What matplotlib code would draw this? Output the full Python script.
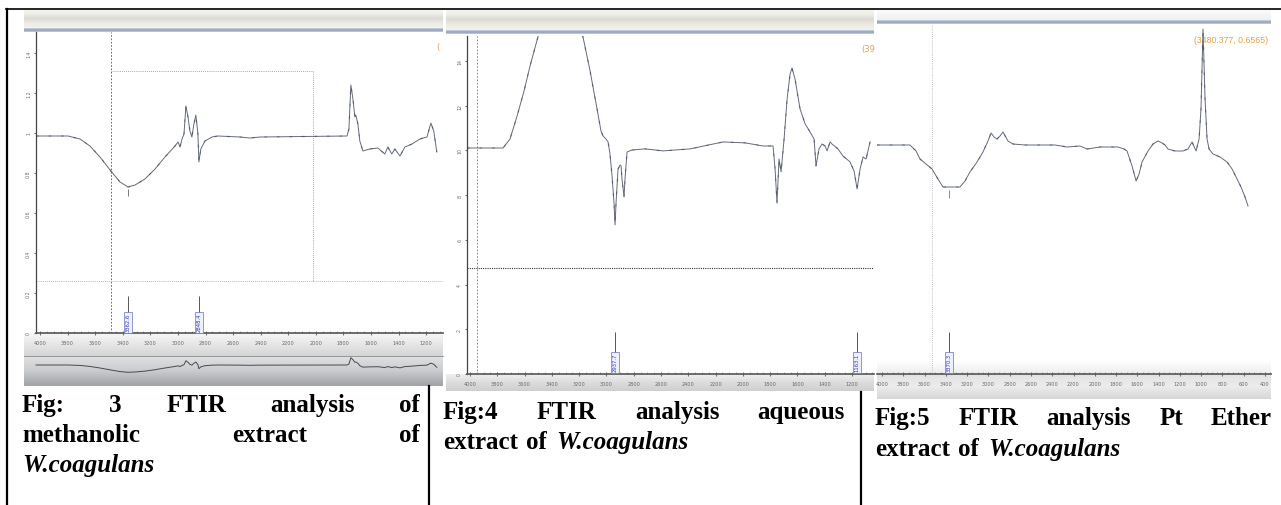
import numpy as np
import matplotlib
matplotlib.use("Agg")
import matplotlib.pyplot as plt
from matplotlib.colors import to_rgb
from matplotlib.ticker import AutoMinorLocator

W, H = 1281, 506

# --- values (wavenumber cm-1, signal) ---
meth_wn = [4029, 3797, 3710, 3638, 3565, 3486, 3420, 3362, 3311, 3239, 3166, 3094,
           3021, 2999, 2985, 2970, 2956, 2942, 2927, 2913, 2899, 2884, 2870, 2855,
           2848, 2834, 2804, 2753, 2710, 2550, 2478, 2405, 1774, 1760, 1746, 1731,
           1717, 1710, 1695, 1681, 1659, 1609, 1550, 1500, 1478, 1449, 1427, 1390,
           1354, 1303, 1245, 1194, 1166, 1145, 1123]
meth_abs = [0.985, 0.985, 0.97, 0.935, 0.88, 0.81, 0.755, 0.73, 0.74, 0.77, 0.82, 0.88,
            0.935, 0.955, 0.93, 0.97, 0.995, 1.135, 1.08, 1.01, 0.98, 1.045, 1.09, 0.995,
            0.855, 0.92, 0.96, 0.98, 0.985, 0.98, 0.975, 0.98, 0.985, 1.02, 1.24, 1.17,
            1.08, 1.09, 1.045, 0.96, 0.91, 0.92, 0.925, 0.895, 0.93, 0.895, 0.92, 0.885,
            0.93, 0.945, 0.97, 0.98, 1.05, 1.01, 0.905]
meth_peaks = [3362, 2848]
meth_peak_labels = ["3362.6", "2848.4"]

aq_wn = [4022, 3758, 3707, 3655, 3604, 3560, 3502, 3450, 3340, 3230, 3172, 3120,
         3069, 3040, 3025, 3003, 2988, 2974, 2959, 2944, 2937, 2930, 2915, 2900,
         2893, 2886, 2871, 2864, 2849, 2813, 2717, 2585, 2387, 2146, 1984, 1852,
         1779, 1764, 1750, 1735, 1720, 1698, 1676, 1654, 1640, 1618, 1581, 1544,
         1508, 1478, 1464, 1442, 1420, 1398, 1383, 1361, 1347, 1303, 1266, 1215,
         1185, 1163, 1141, 1119, 1097, 1068]
aq_abs = [10.11, 10.11, 10.51, 11.54, 12.66, 13.78, 15.08, 16.33, 18.6, 16.33, 15.08, 13.56,
          11.86, 10.87, 10.65, 10.51, 10.38, 9.84, 8.86, 7.61, 6.67, 7.61, 9.17, 9.35,
          9.31, 8.72, 7.92, 8.72, 9.93, 10.02, 10.07, 9.98, 10.07, 10.38, 10.34, 10.20,
          10.20, 9.17, 7.65, 9.62, 9.04, 10.51, 12.30, 13.42, 13.69, 13.20, 11.86, 11.19,
          10.83, 10.51, 9.31, 10.07, 10.29, 10.20, 9.98, 10.38, 10.29, 10.07, 9.75, 9.49,
          9.08, 8.28, 9.17, 9.71, 9.62, 10.38]
aq_peaks = [2937, 1163]
aq_peak_labels = ["2937.7", "1163.1"]

pe_wn = [4047, 3737, 3680, 3643, 3586, 3530, 3474, 3427, 3342, 3267, 3220, 3173,
         3107, 3051, 3004, 2975, 2947, 2919, 2891, 2863, 2816, 2769, 2656, 2515,
         2374, 2261, 2139, 2073, 1951, 1782, 1725, 1697, 1650, 1612, 1584, 1556,
         1500, 1453, 1406, 1368, 1340, 1312, 1246, 1171, 1124, 1086, 1048, 1020,
         1002, 983, 964, 945, 926, 889, 823, 757, 710, 663, 626, 588, 560]
pe_abs = [0.458, 0.458, 0.446, 0.43, 0.42, 0.41, 0.39, 0.374, 0.374, 0.374, 0.386, 0.404,
          0.424, 0.444, 0.466, 0.482, 0.474, 0.47, 0.476, 0.484, 0.466, 0.46, 0.458, 0.458,
          0.458, 0.454, 0.456, 0.45, 0.454, 0.454, 0.45, 0.446, 0.416, 0.386, 0.40, 0.424,
          0.446, 0.46, 0.466, 0.462, 0.458, 0.45, 0.446, 0.446, 0.45, 0.464, 0.446, 0.47,
          0.53, 0.69, 0.55, 0.47, 0.45, 0.44, 0.434, 0.424, 0.41, 0.39, 0.374, 0.354, 0.336]
pe_peaks = [3370]
pe_peak_labels = ["3370.3"]

ticks_short = list(range(4000, 1199, -200))
ticks_full = list(range(4000, 399, -200))

cap1 = [["Fig:", "3", "FTIR", "analysis", "of"], ["methanolic", "extract", "of"]]
cap2 = ["Fig:4", "FTIR", "analysis", "aqueous"]
cap3 = ["Fig:5", "FTIR", "analysis", "Pt", "Ether"]
species = "W.coagulans"

fig = plt.figure(figsize=(W / 100, H / 100), dpi=100)
fig.patch.set_facecolor("white")
bg = fig.add_axes([0, 0, 1, 1])
bg.axis("off")


def px_axes(x0, y0, x1, y1):
    return fig.add_axes([x0 / W, 1 - y1 / H, (x1 - x0) / W, (y1 - y0) / H])


def band(x0, x1, y0, y1, cols, n=64):
    c = np.array([to_rgb(k) for k in cols])
    t = np.linspace(0, 1, n)
    s = np.linspace(0, 1, len(cols))
    img = np.stack([np.interp(t, s, c[:, i]) for i in range(3)], axis=1)[:, None, :]
    bg.imshow(img, extent=[x0, x1, y1, y0], aspect="auto", interpolation="bilinear", zorder=0)


# screenshot chrome
header = ["#f7f6f1", "#eeede6", "#dcdbd2", "#ecebe5", "#f2f2ee"]
bluebar = ["#d3dae4", "#8d9cb4", "#c9d1dd"]
band(24, 443, 10, 29, header)
band(24, 443, 29, 33, bluebar)
band(24, 443, 334, 357, ["#f7f7f7", "#e6e6e6", "#d4d4d4"])
band(24, 443, 357, 387, ["#dfe1e3", "#c9cbce", "#9fa2a6"])
bg.plot([24, 443], [357, 357], color="#8a8a8a", lw=0.6)
band(446, 874, 10, 31, header)
band(446, 874, 31, 35, bluebar)
band(446, 874, 375, 392, ["#efefef", "#dcdcdc", "#cfcfcf"])
band(877, 1271, 11, 21, ["#fafbfc", "#eef0f4"])
band(877, 1271, 21, 25, bluebar)
band(877, 1271, 362, 375, ["#ffffff", "#ececec"])
band(877, 1271, 375, 400, ["#e2e2e2", "#ececec", "#d6d6d6"])

bg.text(436, 50, "(", fontsize=6, color="#e0a050")
bg.text(861, 52, "(39", fontsize=6, color="#e0a050")
bg.text(1194, 43, "(3480.377, 0.6565)", fontsize=6.3, color="#e5a24a", family="Liberation Sans")


def spectrum_axes(rect, xlim, ylim, xticks, yticks=None):
    ax = px_axes(*rect)
    ax.set_facecolor("none")
    ax.set_xlim(xlim)
    ax.set_ylim(ylim)
    ax.spines["top"].set_visible(False)
    ax.spines["right"].set_visible(False)
    ax.spines["bottom"].set_color("#555555")
    ax.spines["bottom"].set_linewidth(1.2)
    ax.set_xticks(xticks)
    ax.set_xticklabels([str(t) for t in xticks])
    ax.xaxis.set_minor_locator(AutoMinorLocator(4))
    ax.tick_params(axis="x", which="major", length=2.5, direction="inout", color="#777777",
                   labelsize=3.6, labelcolor="#6a6a6a", pad=3.5)
    ax.tick_params(axis="x", which="minor", length=1.5, direction="in", color="#999999")
    if yticks is None:
        ax.spines["left"].set_visible(False)
        ax.set_yticks([])
    else:
        ax.spines["left"].set_color("#444444")
        ax.spines["left"].set_linewidth(0.9)
        ax.set_yticks(yticks)
        ax.set_yticklabels([f"{v:g}" for v in yticks], rotation=90, va="center")
        ax.tick_params(axis="y", length=1.5, color="#777777", labelsize=3.4,
                       labelcolor="#707070", pad=2)
    return ax


def draw_trace(ax, wn, val):
    ax.plot(wn, val, color="#646b7e", lw=0.7, solid_joinstyle="round")
    ax.plot(wn, val, color="#2c2c2c", lw=1.0, dashes=(2, 7), alpha=0.35)


def draw_peaks(ax, peaks, labels, top, y_lab):
    ax.vlines(peaks, 0, top, color="#555555", lw=0.7)
    for p, lab in zip(peaks, labels):
        ax.text(p, y_lab, lab, rotation=90, fontsize=3.8, color="#3b3bb0", ha="center",
                va="bottom", bbox=dict(boxstyle="square,pad=0.25", fc="#eef0ff",
                                        ec="#6a70c0", lw=0.5))


# Fig 3 - methanolic extract
ax1 = spectrum_axes((36, 33, 443, 334), (4029, 1078), (0, 1.505), ticks_short,
                    [0, 0.2, 0.4, 0.6, 0.8, 1.0, 1.2, 1.4])
ax1.axvline(3486, color="#555555", lw=0.6, ls=(0, (2, 2)))
ax1.plot([3486, 2021, 2021], [1.31, 1.31, 0.26], color="#8a8a8a", lw=0.6, ls=(0, (1, 1.5)))
ax1.axhline(0.26, color="#9a9a9a", lw=0.6, ls=(0, (1, 1.5)))
draw_trace(ax1, meth_wn, meth_abs)
draw_peaks(ax1, meth_peaks, meth_peak_labels, 0.185, 0.008)
m0 = np.interp(meth_peaks[0], meth_wn[::-1], meth_abs[::-1])
ax1.vlines(meth_peaks[0], m0 - 0.045, m0 - 0.012, color="#666666", lw=0.6)

ov = px_axes(24, 357, 443, 387)
ov.axis("off")
ov.set_xlim(4116, 1078)
ov.set_ylim(0.25, 1.3)
ov.plot(meth_wn, meth_abs, color="#4a4a4a", lw=0.7)

# Fig 4 - aqueous extract
ax2 = spectrum_axes((467, 37, 874, 375), (4022, 1039), (0, 15.12), ticks_short,
                    [0, 2, 4, 6, 8, 10, 12, 14])
ax2.axvline(3949, color="#777777", lw=0.6, ls=(0, (2, 2)))
ax2.axhline(4.74, color="#333333", lw=0.8, ls=(0, (1, 1)))
draw_trace(ax2, aq_wn, aq_abs)
draw_peaks(ax2, aq_peaks, aq_peak_labels, 1.88, 0.12)

# Fig 5 - petroleum ether extract
ax3 = spectrum_axes((877, 25, 1271, 375), (4047, 344), (0, 0.70), ticks_full)
ax3.axvline(3530, color="#b0b0b0", lw=0.6, ls=(0, (1, 1.5)))
draw_trace(ax3, pe_wn, pe_abs)
draw_peaks(ax3, pe_peaks, pe_peak_labels, 0.084, 0.005)
p0 = np.interp(pe_peaks[0], pe_wn[::-1], pe_abs[::-1])
ax3.vlines(pe_peaks[0], p0 - 0.022, p0 - 0.006, color="#777777", lw=0.6)

# table rules
bg.plot([6, 1281], [9.5, 9.5], color="black", lw=1.2)
bg.plot([6.5, 6.5], [9.5, 506], color="black", lw=1.6)
bg.plot([428.5, 428.5], [387, 506], color="black", lw=1.6)
bg.plot([861, 861], [393, 506], color="black", lw=1.6)

bg.set_xlim(0, W)
bg.set_ylim(H, 0)

# captions
renderer = fig.canvas.get_renderer()


def cap_words(words, y, x0, x1=None, xs=None, italic_last=False):
    texts = []
    for i, w in enumerate(words):
        it = italic_last and i == len(words) - 1
        texts.append(bg.text(0, y, w, fontsize=18, family="Liberation Serif", weight="bold",
                             style="italic" if it else "normal", va="baseline", ha="left",
                             color="black"))
    if xs is not None:
        for t, x in zip(texts, xs):
            t.set_x(x)
        return
    widths = [t.get_window_extent(renderer).width for t in texts]
    gap = (x1 - x0 - sum(widths)) / (len(texts) - 1)
    pos = x0
    for t, w in zip(texts, widths):
        t.set_x(pos)
        pos += w + gap


cap_words(cap1[0], 412, 22, 420)
cap_words(cap1[1], 442, 22, 420)
cap_words([species], 472, 22, xs=[22], italic_last=True)

cap_words(cap2, 419, 443, 845)
cap_words(["extract", "of", species], 449, 443, xs=[443, 526, 556], italic_last=True)

cap_words(cap3, 425, 875, 1272)
cap_words(["extract", "of", species], 456, 875, xs=[875, 958, 988], italic_last=True)

fig.savefig("out.png", dpi=100)
